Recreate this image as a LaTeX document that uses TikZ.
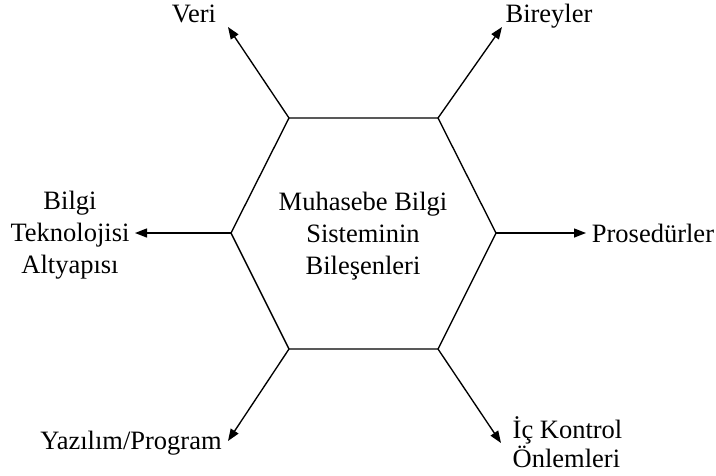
\documentclass[tikz,border=0pt]{standalone}
\usepackage{fontspec}
\setmainfont{Liberation Serif}
\usetikzlibrary{arrows.meta}

\begin{document}
\begin{tikzpicture}[x=1pt, y=-1pt, >={Triangle[length=12pt,width=9pt]}, line width=1.35pt,
  lbl/.style={font=\fontsize{26.5}{32}\selectfont, align=center, inner sep=0pt}]
  \useasboundingbox (0,0) rectangle (716,475);
  % Hexagon
  \coordinate (tl) at (289,118);
  \coordinate (tr) at (438,118);
  \coordinate (rt) at (496,233);
  \coordinate (br) at (438,349);
  \coordinate (bl) at (289,349);
  \coordinate (lf) at (231,233);
  \draw (tl) -- (tr) -- (rt) -- (br) -- (bl) -- (lf) -- cycle;
  \node[lbl] (center) at (363,236) {Muhasebe Bilgi\\Sisteminin\\Bileşenleri};
  % Arrow tips
  \coordinate (veritip) at (228,27);
  \coordinate (bireytip) at (502,27);
  \coordinate (prostip) at (586,233);
  \coordinate (ictip) at (501,443);
  \coordinate (yaztip) at (228,441);
  \coordinate (bilgitip) at (135,233);
  % Arrows
  \draw[->] (tl) -- (veritip);
  \draw[->] (tr) -- (bireytip);
  \draw[->] (rt) -- (prostip);
  \draw[->] (br) -- (ictip);
  \draw[->] (bl) -- (yaztip);
  \draw[->] (lf) -- (bilgitip);
  % Labels
  \node[lbl] (veri) at (194,14) {Veri};
  \node[lbl] (birey) at (549,16) {Bireyler};
  \node[lbl] (pros) at (653,233) {Prosedürler};
  \node[lbl] (bilgi) at (70,235) {Bilgi\\Teknolojisi\\Altyapısı};
  \node[lbl, align=left, anchor=west, font=\fontsize{26.5}{29}\selectfont] (ic) at (512,442) {İç Kontrol\\Önlemleri};
  \node[lbl] (yaz) at (131,443) {Yazılım/Program};
\end{tikzpicture}
\end{document}
